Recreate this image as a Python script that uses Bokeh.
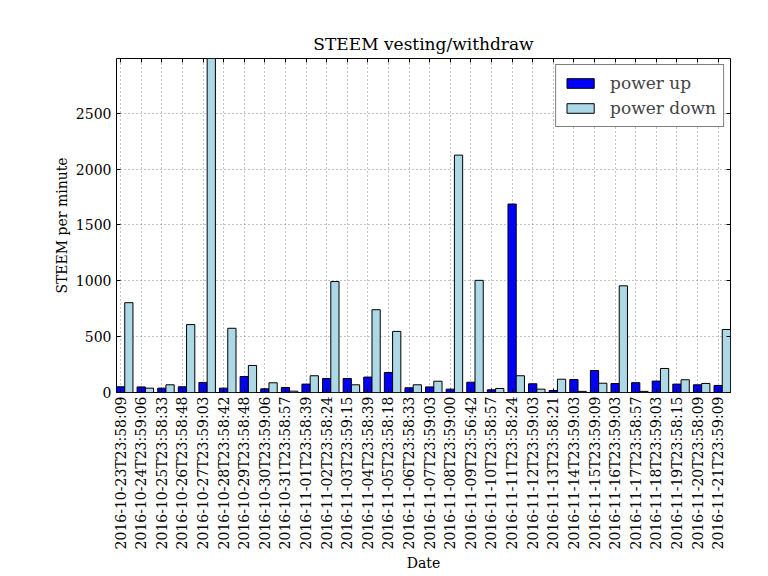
import math
from bokeh.plotting import figure
from bokeh.models import (ColumnDataSource, Range1d, FixedTicker, LinearAxis,
                          Legend, LegendItem, Grid, CustomLabelingPolicy)
from bokeh.transform import dodge
from bokeh.embed import file_html
from bokeh.resources import INLINE

dates = [
    "2016-10-23T23:58:09", "2016-10-24T23:59:06", "2016-10-25T23:58:33",
    "2016-10-26T23:58:48", "2016-10-27T23:59:03", "2016-10-28T23:58:42",
    "2016-10-29T23:58:48", "2016-10-30T23:59:06", "2016-10-31T23:58:57",
    "2016-11-01T23:58:39", "2016-11-02T23:58:24", "2016-11-03T23:59:15",
    "2016-11-04T23:58:39", "2016-11-05T23:58:18", "2016-11-06T23:58:33",
    "2016-11-07T23:59:03", "2016-11-08T23:59:00", "2016-11-09T23:56:42",
    "2016-11-10T23:58:57", "2016-11-11T23:58:24", "2016-11-12T23:59:03",
    "2016-11-13T23:58:21", "2016-11-14T23:59:03", "2016-11-15T23:59:09",
    "2016-11-16T23:59:03", "2016-11-17T23:58:57", "2016-11-18T23:59:03",
    "2016-11-19T23:58:15", "2016-11-20T23:58:09", "2016-11-21T23:59:09",
]
power_up = [51, 50, 39, 51, 90, 39, 143, 33, 45, 75,
            125, 125, 138, 179, 42, 50, 30, 92, 24, 1687,
            78, 18, 116, 197, 80, 88, 102, 75, 69, 63]
power_down = [804, 39, 69, 608, 2990, 575, 242, 87, 12, 150,
              993, 69, 741, 547, 69, 101, 2125, 1004, 36, 150,
              30, 119, 10, 83, 955, 10, 215, 114, 81, 564]
y_ticks = [0, 500, 1000, 1500, 2000, 2500]

idx = list(range(len(dates)))
src = ColumnDataSource(dict(x=idx, up=power_up, down=power_down))

FONT = "DejaVu Serif"
HIDE = "for (const i of indices) { indices.unset(i) }\nreturn indices"

p = figure(width=768, height=576, output_backend="svg", toolbar_location=None,
           x_range=Range1d(-0.2, 29.6), y_range=Range1d(0, 2990),
           min_border_left=116, min_border_right=38, min_border_top=58,
           min_border_bottom=184, x_axis_type=None)
p.title.text = "STEEM vesting/withdraw"
p.title.align = "center"
p.title.text_font = FONT
p.title.text_font_size = "17px"
p.title.text_font_style = "normal"
p.title.text_color = "black"
p.title.standoff = 1

r_up = p.vbar(x="x", top="up", width=0.4, source=src,
              fill_color="#0000ff", line_color="black", line_width=1)
r_down = p.vbar(x=dodge("x", 0.4), top="down", width=0.4, source=src,
                fill_color="#add8e6", line_color="black", line_width=1)

xt = FixedTicker(ticks=idx)
yt = FixedTicker(ticks=y_ticks)
overrides = {i: d for i, d in zip(idx, dates)}

xaxis = LinearAxis(ticker=xt, major_label_overrides=overrides,
                   major_label_orientation=math.pi / 2, axis_label="Date")
p.add_layout(xaxis, "below")

xtop = LinearAxis(ticker=xt, major_label_policy=CustomLabelingPolicy(code=HIDE))
p.add_layout(xtop, "above")

p.yaxis.ticker = yt
p.yaxis.axis_label = "STEEM per minute"
yright = LinearAxis(ticker=yt, major_label_policy=CustomLabelingPolicy(code=HIDE))
p.add_layout(yright, "right")

for ax in [xaxis, xtop, p.yaxis[0], yright]:
    ax.major_tick_in = 4
    ax.major_tick_out = 0
    ax.minor_tick_line_color = None
    ax.axis_line_color = None
    ax.major_tick_line_color = "black"
    ax.major_label_text_font = FONT
    ax.major_label_text_font_size = "14px"
    ax.major_label_text_color = "black"
    ax.axis_label_text_font = FONT
    ax.axis_label_text_font_size = "14px"
    ax.axis_label_text_font_style = "normal"
    ax.axis_label_text_color = "black"
for ax in [xtop, yright]:
    ax.major_label_standoff = 0
    ax.major_label_text_font_size = "1px"

xaxis.axis_label_standoff = 3
xaxis.major_label_standoff = 4
p.yaxis[0].axis_label_standoff = 3
p.yaxis[0].major_label_standoff = 5

p.xgrid.grid_line_color = None
p.add_layout(Grid(dimension=0, ticker=xt, grid_line_color="#888888",
                  grid_line_dash="1 3", grid_line_width=1))
p.ygrid.grid_line_color = "#888888"
p.ygrid.grid_line_dash = "1 3"
p.ygrid.ticker = yt

p.outline_line_color = "black"
p.outline_line_width = 1

legend = Legend(items=[LegendItem(label="power up", renderers=[r_up]),
                       LegendItem(label="power down", renderers=[r_down])],
                location="top_right")
legend.label_text_font = FONT
legend.label_text_font_size = "17px"
legend.glyph_width = 34
legend.glyph_height = 12
legend.label_height = 22
legend.label_standoff = 13
legend.spacing = 3
legend.padding = 7
legend.margin = 6
legend.border_line_color = "black"
legend.border_line_width = 1
legend.background_fill_alpha = 1
p.add_layout(legend)

open("out.html", "w").write(file_html(p, INLINE))
